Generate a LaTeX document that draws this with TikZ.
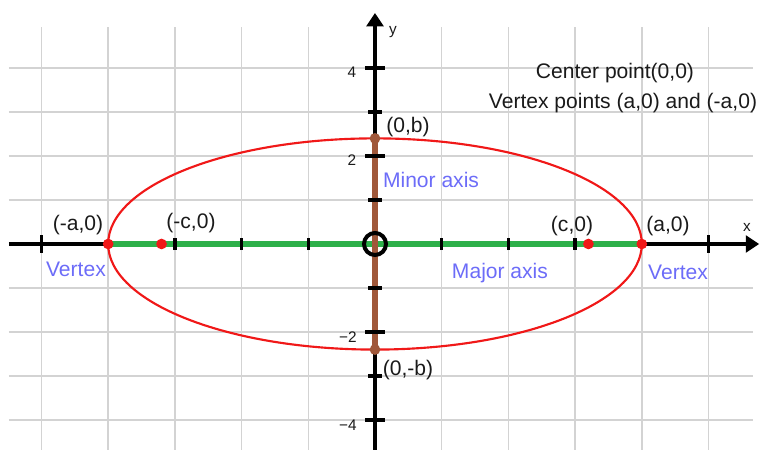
\documentclass[tikz,border=0pt]{standalone}
\usepackage{fontspec}
\setmainfont{Liberation Sans}
\usetikzlibrary{arrows.meta}
\begin{document}
\begin{tikzpicture}[x=50.025pt,y=33pt,font=\fontsize{15.8}{18}\selectfont,
  lbl/.style={inner sep=0pt,text=ink},
  blbl/.style={inner sep=0pt,text=note},
  num/.style={inner sep=0pt,text=ink,font=\fontsize{11.5}{13}\selectfont}]
\definecolor{ink}{HTML}{1A1A1A}\definecolor{rule}{HTML}{D3D3D3}
\definecolor{curve}{HTML}{F01818}\definecolor{major}{HTML}{2DB04A}
\definecolor{minor}{HTML}{A0583A}\definecolor{note}{HTML}{6C6CF8}
\useasboundingbox (-5.622,-4.682) rectangle (5.772,5.545);
% grid
\draw[rule,line width=1.1pt] (-5,-4.682) -- (-5,4.932);
\draw[rule,line width=1.1pt] (-4,-4.682) -- (-4,4.932);
\draw[rule,line width=1.1pt] (-3,-4.682) -- (-3,4.932);
\draw[rule,line width=1.1pt] (-2,-4.682) -- (-2,4.932);
\draw[rule,line width=1.1pt] (-1,-4.682) -- (-1,4.932);
\draw[rule,line width=1.1pt] (1,-4.682) -- (1,4.932);
\draw[rule,line width=1.1pt] (2,-4.682) -- (2,4.932);
\draw[rule,line width=1.1pt] (3,-4.682) -- (3,4.932);
\draw[rule,line width=1.1pt] (4,-4.682) -- (4,4.932);
\draw[rule,line width=1.1pt] (5,-4.682) -- (5,4.932);
\draw[rule,line width=1.1pt] (-5.487,4) -- (5.667,4);
\draw[rule,line width=1.1pt] (-5.487,3) -- (5.667,3);
\draw[rule,line width=1.1pt] (-5.487,2) -- (5.667,2);
\draw[rule,line width=1.1pt] (-5.487,1) -- (5.667,1);
\draw[rule,line width=1.1pt] (-5.487,-1) -- (5.667,-1);
\draw[rule,line width=1.1pt] (-5.487,-2) -- (5.667,-2);
\draw[rule,line width=1.1pt] (-5.487,-3) -- (5.667,-3);
\draw[rule,line width=1.1pt] (-5.487,-4) -- (5.667,-4);
% ellipse
\draw[curve,line width=1.6pt] (0,0) ellipse [x radius=4,y radius=2.4];
% axes
\draw[black,line width=3pt,-{Triangle[length=10pt,width=12.5pt]}] (-5.487,0) -- (5.76,0);
\draw[black,line width=3pt,-{Triangle[length=10pt,width=12.5pt]}] (0,-4.682) -- (0,5.25);
\draw[major,line width=4pt] (-4,0) -- (4,0);
\draw[minor,line width=4pt] (0,-2.4) -- (0,2.4);
% ticks
\draw[black,line width=2.5pt] (-5,-0.2) -- (-5,0.2);
\draw[black,line width=2.5pt] (5,-0.2) -- (5,0.2);
\draw[black,line width=2.5pt] (-3,-0.14) -- (-3,0.14);
\draw[black,line width=2.5pt] (-2,-0.14) -- (-2,0.14);
\draw[black,line width=2.5pt] (-1,-0.14) -- (-1,0.14);
\draw[black,line width=2.5pt] (1,-0.14) -- (1,0.14);
\draw[black,line width=2.5pt] (2,-0.14) -- (2,0.14);
\draw[black,line width=2.5pt] (3,-0.14) -- (3,0.14);
\draw[black,line width=2.5pt] (-0.15,4) -- (0.15,4);
\draw[black,line width=2.5pt] (-0.15,2) -- (0.15,2);
\draw[black,line width=2.5pt] (-0.15,-2) -- (0.15,-2);
\draw[black,line width=2.5pt] (-0.15,-4) -- (0.15,-4);
\draw[black,line width=2.5pt] (-0.1,3) -- (0.1,3);
\draw[black,line width=2.5pt] (-0.1,1) -- (0.1,1);
\draw[black,line width=2.5pt] (-0.1,-1) -- (0.1,-1);
\draw[black,line width=2.5pt] (-0.1,-3) -- (0.1,-3);
% centre and points
\draw[black,line width=3pt] (0,0) circle [radius=8.25pt];
\fill[curve] (-4,0) circle [radius=4pt];
\fill[curve] (4,0) circle [radius=4pt];
\fill[curve] (-3.2,0) circle [radius=4pt];
\fill[curve] (3.2,0) circle [radius=4pt];
\fill[minor] (0,2.4) circle [radius=4pt];
\fill[minor] (0,-2.4) circle [radius=4pt];
% axis numbers
\node[num] (ylab) at (0.270,4.818) {y};
\node[num] (xlab) at (5.577,0.386) {x};
\node[num] (nfour) at (-0.345,3.909) {4};
\node[num] (ntwo) at (-0.345,1.909) {2};
\node[num] (nmtwo) at (-0.405,-2.114) {−2};
\node[num] (nmfour) at (-0.405,-4.114) {−4};
% labels
\node[lbl] (ptb) at (0.495,2.659) {(0,b)};
\node[lbl] (ptmb) at (0.495,-2.864) {(0,-b)};
\node[lbl] (ptma) at (-4.453,0.432) {(-a,0)};
\node[lbl] (ptmc) at (-2.759,0.477) {(-c,0)};
\node[lbl] (ptc) at (2.954,0.409) {(c,0)};
\node[lbl] (pta) at (4.393,0.409) {(a,0)};
\node[blbl] (minax) at (0.840,1.455) {Minor axis};
\node[blbl] (majax) at (1.874,-0.659) {Major axis};
\node[blbl] (vtxl) at (-4.483,-0.568) {Vertex};
\node[blbl] (vtxr) at (4.543,-0.636) {Vertex};
\node[lbl] (centre) at (3.598,3.886) {Center point(0,0)};
\node[lbl] (vtxpts) at (3.718,3.205) {Vertex points (a,0) and (-a,0)};
\end{tikzpicture}
\end{document}
